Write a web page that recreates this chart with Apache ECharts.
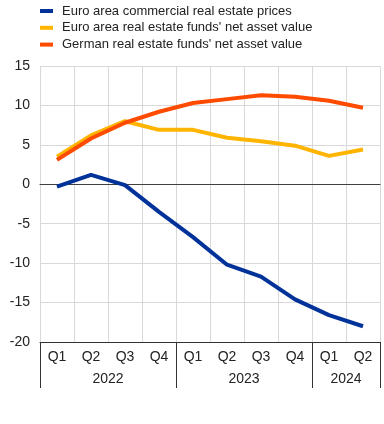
<!DOCTYPE html>
<html><head><meta charset="utf-8">
<script src="https://cdn.jsdelivr.net/npm/echarts@6/dist/echarts.min.js"></script>
<style>html,body{margin:0;padding:0;background:#fff}#c{width:384px;height:424px}</style>
</head><body><div id="c"></div>
<script>
const quarters = ['Q1','Q2','Q3','Q4','Q1','Q2','Q3','Q4','Q1','Q2'];
const years = ['2022','2023','2024'];
const yearStartIdx = [0, 4, 8, 10]; // group boundaries in quarter index
const seriesNames = ['Euro area commercial real estate prices', "Euro area real estate funds' net asset value", "German real estate funds' net asset value"];
const crePrices = [-0.3, 1.2, -0.1, -3.5, -6.7, -10.2, -11.7, -14.6, -16.6, -18.0];
const euroFunds = [3.5, 6.2, 8.0, 6.9, 6.9, 5.9, 5.45, 4.9, 3.6, 4.4];
const germanFunds = [3.1, 5.8, 7.8, 9.2, 10.3, 10.8, 11.3, 11.1, 10.6, 9.7];
const colors = ['#003299', '#FFB400', '#FF4B00'];
const yTicks = {min: -20, max: 15, interval: 5};

// half-step axis for year labels and group separators
const halfPoints = [];
for (let j = 0; j <= quarters.length * 2; j++) halfPoints.push(String(j));
const yearLabelAt = {};
const sepAt = {};
for (let g = 0; g < years.length; g++) {
  const a = yearStartIdx[g], b = yearStartIdx[g + 1];
  yearLabelAt[a + b] = years[g];
  sepAt[2 * a] = true; sepAt[2 * b] = true;
}

const font = 'Arial, "Liberation Sans", sans-serif';
const chart = echarts.init(document.getElementById('c'), null, {renderer: 'canvas'});
chart.setOption({
  animation: false,
  color: colors,
  legend: {
    orient: 'vertical', left: 40, top: 4, padding: 0,
    itemWidth: 13, itemHeight: 4, itemGap: 2.8,
    icon: 'rect',
    textStyle: {fontFamily: font, fontSize: 13, color: '#222', lineHeight: 14, padding: [0,0,0,4]},
    data: seriesNames
  },
  grid: {left: 40, right: 4, top: 66, bottom: 82, containLabel: false},
  xAxis: [{
    type: 'category', data: quarters, position: 'bottom',
    axisLine: {show: true, lineStyle: {color: '#333', width: 1}},
    axisTick: {show: false},
    axisLabel: {fontFamily: font, fontSize: 14, color: '#222', margin: 8},
    splitLine: {show: true, lineStyle: {color: '#d9d9d9', width: 1}}
  }, {
    type: 'category', data: halfPoints, position: 'bottom', boundaryGap: false,
    axisLine: {show: true, lineStyle: {color: '#333', width: 1}},
    axisTick: {show: true, length: 46, lineStyle: {color: '#333', width: 1}, interval: (i) => !!sepAt[i]},
    axisLabel: {fontFamily: font, fontSize: 14, color: '#222', margin: 30, interval: 0,
      formatter: (v, i) => yearLabelAt[i] || ''},
    splitLine: {show: false}
  }],
  yAxis: {
    type: 'value', min: yTicks.min, max: yTicks.max, interval: yTicks.interval,
    axisLine: {show: false}, axisTick: {show: false},
    axisLabel: {fontFamily: font, fontSize: 14, color: '#222', margin: 10},
    splitLine: {show: true, lineStyle: {color: '#d9d9d9', width: 1}}
  },
  series: [
    {name: seriesNames[0], type: 'line', data: crePrices, symbol: 'none', lineStyle: {width: 4, color: colors[0]},
     markLine: {silent: true, symbol: 'none', label: {show: false}, lineStyle: {color: '#404040', width: 1, type: 'solid'}, data: [{yAxis: 0}], z: 1}},
    {name: seriesNames[1], type: 'line', data: euroFunds, symbol: 'none', lineStyle: {width: 4, color: colors[1]}},
    {name: seriesNames[2], type: 'line', data: germanFunds, symbol: 'none', lineStyle: {width: 4, color: colors[2]}}
  ]
});
</script></body></html>
